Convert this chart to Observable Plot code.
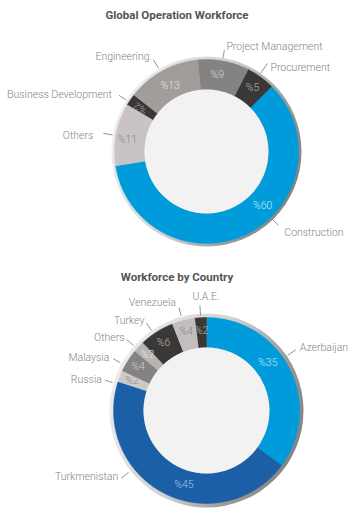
<!DOCTYPE html>
<html>
<head>
<meta charset="utf-8">
<script src="https://cdn.jsdelivr.net/npm/d3@7"></script>
<script src="https://cdn.jsdelivr.net/npm/@observablehq/plot@0.6"></script>
<style>
  html, body { margin: 0; padding: 0; background: #fff; }
  body { width: 354px; height: 519px; overflow: hidden; font-family: Roboto, "Noto Sans", sans-serif; }
  .title { text-align: center; font-weight: bold; font-size: 11.5px; color: #555; line-height: 14px; }
  svg { display: block; }
</style>
</head>
<body>
<div id="c1"></div>
<div id="c2"></div>
<script>
// ---- Data ----
const workTitle = "Global Operation Workforce";
const workCategories = ["Construction", "Others", "Business Development", "Engineering", "Project Management", "Procurement"];
const workValues = [60, 11, 2, 13, 9, 5];

const countryTitle = "Workforce by Country";
const countryCategories = ["Azerbaijan", "Turkmenistan", "Russia", "Malaysia", "Others", "Turkey", "Venezuela", "U.A.E."];
const countryValues = [35, 45, 2, 4, 2, 6, 4, 2];

// ---- Styles / layout ----
const workColors = ["#009bdb", "#c9c4c3", "#3a3836", "#a29d9b", "#858382", "#3a3836"];
const workPctColors = ["#cde9f8", "#8c8988", "#aaaaaa", "#e6e3e2", "#d4d2d1", "#b4b4b4"];
const countryColors = ["#009bdb", "#1b5fa7", "#cfcaca", "#858382", "#b7b3b2", "#3a3836", "#c2bebd", "#3a3836"];
const countryPctColors = ["#c4e5f8", "#a9c5e6", "#8a8a8a", "#d2d0cf", "#e6e3e2", "#b4b4b4", "#8a8888", "#b4b4b4"];

const workLayout = {
  cx: 206, cy: 123, h: 240, rIn: 62, rOut: 92, rim: 95, start: 45,
  pctAngle: [134, 278.6, 303, 331, 8, 35.7], pctR: [78, 80, 79, 75, 78, 79], pctRot: [0, 0, 212, 0, 0, 0],
  leadAngle: [135.8, 280, 302.7, 330, 10, 34.7], leadR0: [95, 95.5, 96, 96, 95, 95], leadR1: [103, 104.7, 104, 106, 103, 107],
  labDx: [6, -10, -7, -4, 2, 3], labDy: [7, 2, -1, -3, -3, 4], gid: "rimA"
};
const countryLayout = {
  cx: 206, cy: 126, h: 235, rIn: 63, rOut: 93, rim: 97, start: 0,
  pctAngle: [51.8, 197, 291.6, 302.4, 313.2, 327.6, 345.6, 356.4], pctR: [78, 77, 80, 81, 81, 80, 81, 80], pctRot: [0, 0, 0, 0, 0, 0, 0, 0],
  leadAngle: [55.8, 231.5, 286.6, 299, 311.7, 325.5, 345, 356.4], leadR0: [98, 99.6, 98, 98.5, 97.7, 97, 98, 95], leadR1: [108, 109, 106, 106.5, 107, 106, 106.7, 105],
  labDx: [4, -3, -3, -4, -2, -2, -3, 6], labDy: [-2, -2, -1, -1, -2, -3, -5, -9], gid: "rimB"
};

function polar(a, r) {
  const t = a * Math.PI / 180;
  return { x: r * Math.sin(t), y: -r * Math.cos(t) };
}

function donut(title, cats, vals, colors, pctColors, L) {
  const total = d3.sum(vals);
  const slices = [];
  let a = L.start;
  cats.forEach((c, i) => {
    const span = vals[i] / total * 360;
    slices.push({ key: c, value: vals[i], a0: a, a1: a + span, color: colors[i], i });
    a += span;
  });
  const pts = [];
  for (const s of slices) {
    const n = Math.max(2, Math.ceil((s.a1 - s.a0) / 0.5));
    for (let k = 0; k <= n; k++) pts.push({ key: s.key, color: s.color, ...polar(s.a0 + (s.a1 - s.a0) * k / n, L.rOut) });
    for (let k = n; k >= 0; k--) pts.push({ key: s.key, color: s.color, ...polar(s.a0 + (s.a1 - s.a0) * k / n, L.rIn) });
  }
  const pct = slices.map(s => ({ text: "%" + s.value, color: pctColors[s.i], rot: L.pctRot[s.i], ...polar(L.pctAngle[s.i], L.pctR[s.i]) }));
  const leaders = slices.map(s => {
    const p0 = polar(L.leadAngle[s.i], L.leadR0[s.i]);
    const p1 = polar(L.leadAngle[s.i], L.leadR1[s.i]);
    return { key: s.key, x1: p0.x, y1: p0.y, x2: p1.x, y2: p1.y, tx: p1.x + L.labDx[s.i], ty: p1.y + L.labDy[s.i],
      anchor: Math.abs(p1.x) < 12 ? "middle" : (p1.x > 0 ? "start" : "end") };
  });
  const W = 354;
  const font = { fontSize: 10.5, fontWeight: 300 };
  const svg = Plot.plot({
    width: W, height: L.h, margin: 0,
    x: { domain: [-L.cx, W - L.cx], range: [0, W], axis: null },
    y: { domain: [-L.cy, L.h - L.cy], range: [0, L.h], axis: null },
    color: { type: "identity" },
    style: { background: "transparent", fontFamily: "Roboto, 'Noto Sans', sans-serif" },
    marks: [
      Plot.dot([0], { x: () => 0, y: () => 0, r: L.rim, fill: `url(#${L.gid})`, stroke: "none" }),
      Plot.line(pts, { x: "x", y: "y", z: "key", fill: "color", stroke: "color", strokeWidth: 0.5 }),
      Plot.dot([0], { x: () => 0, y: () => 0, r: L.rIn, fill: "#f2f2f2", stroke: "none" }),
      Plot.text(pct, { x: "x", y: "y", text: "text", fill: "color", rotate: "rot", ...font }),
      Plot.link(leaders, { x1: "x1", y1: "y1", x2: "x2", y2: "y2", stroke: "#777", strokeWidth: 0.8 }),
      Plot.text(leaders.filter(d => d.anchor === "start"), { x: "tx", y: "ty", text: "key", textAnchor: "start", fill: "#858585", ...font }),
      Plot.text(leaders.filter(d => d.anchor === "end"), { x: "tx", y: "ty", text: "key", textAnchor: "end", fill: "#858585", ...font }),
      Plot.text(leaders.filter(d => d.anchor === "middle"), { x: "tx", y: "ty", text: "key", textAnchor: "middle", fill: "#858585", ...font })
    ]
  });
  const defs = d3.select(svg).insert("defs", ":first-child");
  const g = defs.append("linearGradient").attr("id", L.gid).attr("x1", 0).attr("y1", 0.3).attr("x2", 1).attr("y2", 0.7);
  [[0, "#eeeeee"], [0.45, "#d2d2d2"], [0.75, "#9c9c9c"], [1, "#808080"]].forEach(([o, c]) => g.append("stop").attr("offset", o).attr("stop-color", c));
  return svg;
}

const c1 = document.getElementById("c1");
const t1 = document.createElement("div");
t1.className = "title"; t1.style.paddingTop = "8px"; t1.style.height = "20px"; t1.textContent = workTitle;
c1.appendChild(t1);
c1.appendChild(donut(workTitle, workCategories, workValues, workColors, workPctColors, workLayout));

const c2 = document.getElementById("c2");
const t2 = document.createElement("div");
t2.className = "title"; t2.style.paddingTop = "2px"; t2.style.height = "14px"; t2.textContent = countryTitle;
c2.appendChild(t2);
c2.appendChild(donut(countryTitle, countryCategories, countryValues, countryColors, countryPctColors, countryLayout));
</script>
</body>
</html>
